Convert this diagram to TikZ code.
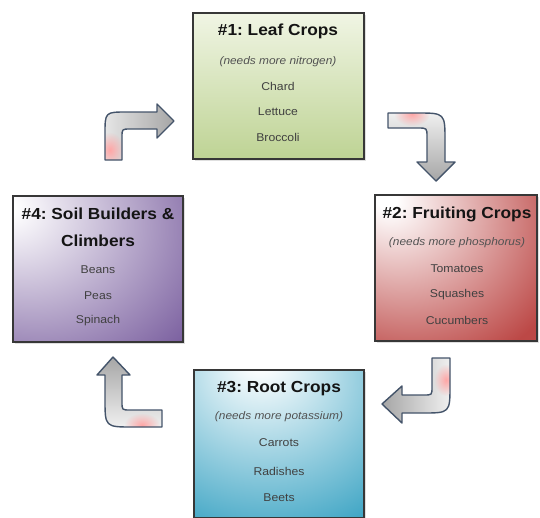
\documentclass[tikz,border=0pt]{standalone}
\usepackage{fontspec}
\setmainfont{Liberation Sans}[FakeStretch=1.08]
\usetikzlibrary{shadows,fadings}
\tikzfading[name=spotfade, inner color=transparent!0, outer color=transparent!100]
\frenchspacing
\definecolor{redC}{RGB}{188,72,70}
\definecolor{blueC}{RGB}{58,163,195}
\definecolor{purpC}{RGB}{118,90,156}
\definecolor{greenT}{RGB}{240,245,228}
\definecolor{greenB}{RGB}{190,211,148}
\definecolor{arrEdge}{RGB}{68,84,106}
\definecolor{boxEdge}{RGB}{55,55,55}
\pgfdeclareradialshading{redsh}{\pgfpoint{-22bp}{24bp}}{color(0bp)=(white);color(3bp)=(white);color(48bp)=(redC);color(100bp)=(redC)}
\pgfdeclareradialshading{bluesh}{\pgfpoint{-6bp}{30bp}}{color(0bp)=(white);color(3bp)=(white);color(50bp)=(blueC);color(100bp)=(blueC)}
\pgfdeclareradialshading{purpsh}{\pgfpoint{-28bp}{22bp}}{color(0bp)=(white);color(3bp)=(white);color(54bp)=(purpC);color(100bp)=(purpC)}
\tikzset{
  cropbox/.style={draw=boxEdge, line width=1.8pt, rectangle, inner sep=0pt,
    drop shadow={shadow xshift=1.5pt, shadow yshift=-1.5pt, opacity=0.25}},
  ttl/.style={font=\fontsize{16}{18}\bfseries\selectfont, text=black!92, inner sep=0pt},
  note/.style={font=\fontsize{11}{12}\itshape\selectfont, text=black!68, inner sep=0pt},
  item/.style={font=\fontsize{11.3}{13}\selectfont, text=black!75, inner sep=0pt},
  arrline/.style={draw=arrEdge, line width=1.4pt, line join=round},
  pinkspot/.style={fill=red!35, path fading=spotfade},
}
\def\arrowA{(105,160) -- (105,134) .. controls (105,112) .. (127,112) -- (157,112) -- (157,104) -- (174,121) -- (157,138) -- (157,129) -- (130,129) .. controls (122,129) .. (122,137) -- (122,160) -- cycle}
\def\arrowB{(388,113) -- (417,113) .. controls (445,113) .. (445,141) -- (445,162) -- (455,162) -- (436,181) -- (417,162) -- (427,162) -- (427,137) .. controls (427,128) .. (418,128) -- (388,128) -- cycle}
\def\arrowC{(432,358) -- (450,358) -- (450,385) .. controls (450,413) .. (422,413) -- (402,413) -- (402,423) -- (382,404) -- (402,386) -- (402,395) -- (424,395) .. controls (432,395) .. (432,387) -- cycle}
\def\arrowD{(162,410) -- (162,427) -- (133,427) .. controls (105,427) .. (105,399) -- (105,375) -- (97,375) -- (113,357) -- (130,375) -- (122,375) -- (122,402) .. controls (122,410) .. (130,410) -- cycle}
\begin{document}
\begin{tikzpicture}[x=1pt,y=-1pt]
\useasboundingbox[fill=white] (0,0) rectangle (540,517);
% boxes
\node[cropbox, minimum width=171pt, minimum height=146pt, top color=greenT, bottom color=greenB] (b1) at (278.5,86) {};
\node[cropbox, minimum width=162pt, minimum height=146pt, shading=redsh] (b2) at (456,268) {};
\node[cropbox, minimum width=170pt, minimum height=148pt, shading=bluesh] (b3) at (279,444) {};
\node[cropbox, minimum width=170pt, minimum height=146pt, shading=purpsh] (b4) at (98,269) {};
% box 1 text
\node[ttl] (b1t) at (278,31) {\#1: Leaf Crops};
\node[note] (b1n) at (278,62) {(needs more nitrogen)};
\node[item] (b1a) at (278,86) {Chard};
\node[item] (b1b) at (278,112) {Lettuce};
\node[item] (b1c) at (278,137) {Broccoli};
% box 2 text
\node[ttl] (b2t) at (457,214) {\#2: Fruiting Crops};
\node[note] (b2n) at (457,243) {(needs more phosphorus)};
\node[item] (b2a) at (457,269) {Tomatoes};
\node[item] (b2b) at (457,295) {Squashes};
\node[item] (b2c) at (457,320) {Cucumbers};
% box 3 text
\node[ttl] (b3t) at (279,389) {\#3: Root Crops};
\node[note] (b3n) at (279,417) {(needs more potassium)};
\node[item] (b3a) at (279,443) {Carrots};
\node[item] (b3b) at (279,471) {Radishes};
\node[item] (b3c) at (279,498) {Beets};
% box 4 text
\node[ttl] (b4t) at (98,214) {\#4: Soil Builders \&};
\node[ttl] (b4u) at (98,241) {Climbers};
\node[item] (b4a) at (98,270) {Beans};
\node[item] (b4b) at (98,296) {Peas};
\node[item] (b4c) at (98,321) {Spinach};
% arrows
\shade[left color=gray!20, right color=gray!70] \arrowA;
\begin{scope}\clip \arrowA; \fill[pinkspot] (110,150) ellipse (14 and 18);\end{scope}
\draw[arrline] \arrowA;
\shade[top color=gray!12, bottom color=gray!70] \arrowB;
\begin{scope}\clip \arrowB; \fill[pinkspot] (412,114) ellipse (18 and 12);\end{scope}
\draw[arrline] \arrowB;
\shade[left color=gray!70, right color=gray!12] \arrowC;
\begin{scope}\clip \arrowC; \fill[pinkspot] (446,380) ellipse (12 and 16);\end{scope}
\draw[arrline] \arrowC;
\shade[top color=gray!70, bottom color=gray!12] \arrowD;
\begin{scope}\clip \arrowD; \fill[pinkspot] (142,425) ellipse (18 and 12);\end{scope}
\draw[arrline] \arrowD;
\end{tikzpicture}
\end{document}
